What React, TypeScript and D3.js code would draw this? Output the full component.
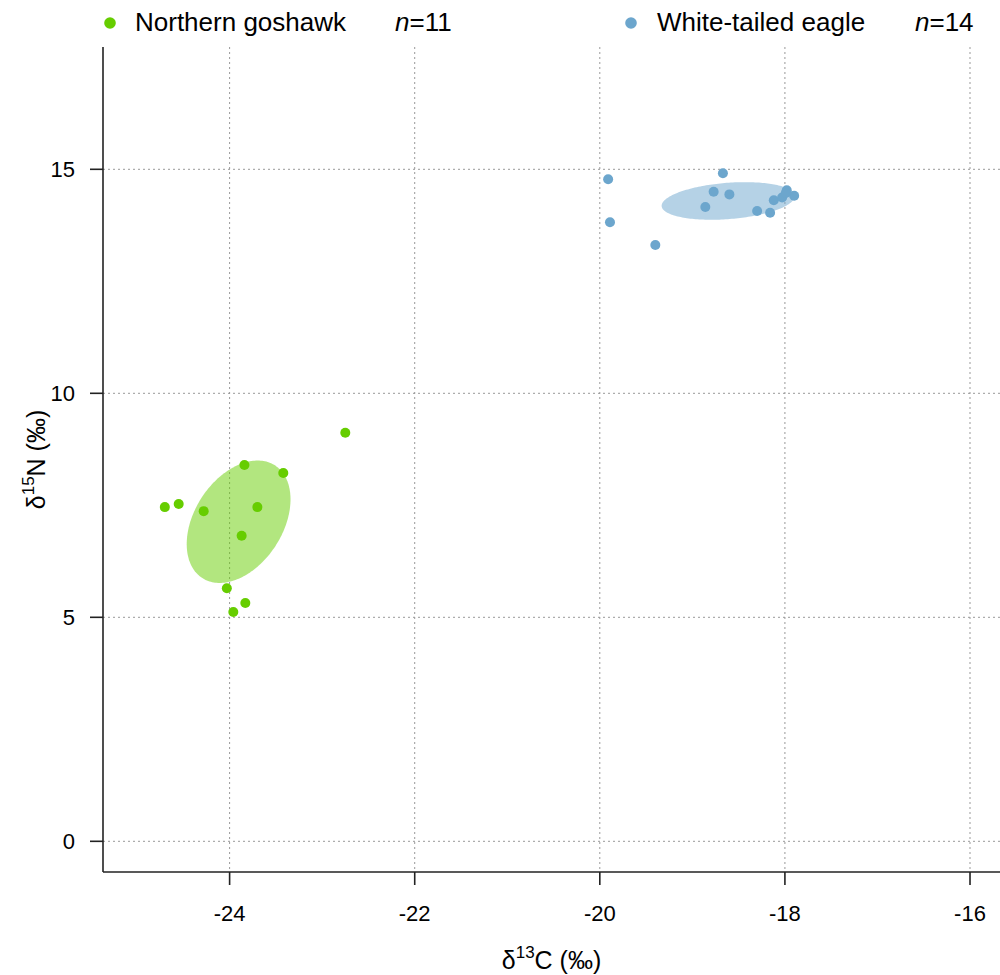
import * as d3 from "d3";

// stable isotope values
const goshawkC = [-24.7, -24.55, -24.28, -23.84, -23.42, -23.7, -23.87, -24.03, -23.96, -23.83, -22.75];
const goshawkN = [7.46, 7.53, 7.37, 8.4, 8.22, 7.46, 6.82, 5.65, 5.12, 5.32, 9.12];
const eagleC = [-19.91, -19.89, -19.4, -18.67, -18.77, -18.6, -18.86, -18.3, -18.16, -18.12, -18.03, -17.98, -17.9, -17.99];
const eagleN = [14.78, 13.82, 13.31, 14.91, 14.5, 14.44, 14.16, 14.07, 14.03, 14.31, 14.37, 14.53, 14.41, 14.47];

const speciesNames = ["Northern goshawk", "White-tailed eagle"];
const speciesColors = ["#66CD00", "#6CA6CD"]; // chartreuse3, skyblue3
const xTicks = [-24, -22, -20, -18, -16];
const yTicks = [0, 5, 10, 15];

const W = 1000;
const H = 975;
const FONT = "'Liberation Sans', Arial, sans-serif";

// small sample corrected standard ellipse (SEAc)
function seac(xs: number[], ys: number[]) {
  const n = xs.length;
  const mx = d3.mean(xs)!;
  const my = d3.mean(ys)!;
  let a = 0, b = 0, c = 0;
  for (let i = 0; i < n; i++) {
    a += (xs[i] - mx) ** 2;
    b += (xs[i] - mx) * (ys[i] - my);
    c += (ys[i] - my) ** 2;
  }
  const k = 1 / (n - 1) * ((n - 1) / (n - 2));
  a *= k; b *= k; c *= k;
  const h = Math.sqrt(((a - c) / 2) ** 2 + b * b);
  const l1 = (a + c) / 2 + h;
  const l2 = (a + c) / 2 - h;
  const th = 0.5 * Math.atan2(2 * b, a - c);
  return d3.range(0, 200).map((i) => {
    const t = (i / 200) * 2 * Math.PI;
    const u = Math.sqrt(l1) * Math.cos(t);
    const v = Math.sqrt(l2) * Math.sin(t);
    return [mx + u * Math.cos(th) - v * Math.sin(th), my + u * Math.sin(th) + v * Math.cos(th)] as [number, number];
  });
}

export default function App() {
  const left = 103;
  const right = 1000;
  const top = 47;
  const bottom = 872;

  const x = d3.scaleLinear().domain([-25.368, -15.676]).range([left, right]);
  const y = d3.scaleLinear().domain([-0.685, 17.73]).range([bottom, top]);

  const groups = [
    { xs: goshawkC, ys: goshawkN, n: goshawkC.length },
    { xs: eagleC, ys: eagleN, n: eagleC.length },
  ];

  const line = d3
    .line<[number, number]>()
    .x((d) => x(d[0]))
    .y((d) => y(d[1]))
    .curve(d3.curveLinearClosed);

  const legendX = [110, 631];
  const legendTextX = [135, 657];
  const legendNX = [395, 915];

  return (
    <svg width={W} height={H} style={{ position: "absolute", left: 0, top: 0, background: "#fff" }} fontFamily={FONT}>
      {/* grid */}
      <g stroke="#999" strokeWidth={1} strokeDasharray="2,3">
        {xTicks.map((t) => (
          <line key={"gx" + t} x1={x(t)} x2={x(t)} y1={top} y2={bottom} />
        ))}
        {yTicks.map((t) => (
          <line key={"gy" + t} x1={left} x2={right} y1={y(t)} y2={y(t)} />
        ))}
      </g>

      {/* ellipses */}
      {groups.map((g, i) => (
        <path key={"e" + i} d={line(seac(g.xs, g.ys))!} fill={speciesColors[i]} fillOpacity={0.5} stroke="none" />
      ))}

      {/* points */}
      {groups.map((g, i) =>
        g.xs.map((v, j) => (
          <circle key={"p" + i + "-" + j} cx={x(v)} cy={y(g.ys[j])} r={5} fill={speciesColors[i]} />
        ))
      )}

      {/* axes */}
      <g stroke="#222" strokeWidth={1.6}>
        <line x1={left} x2={left} y1={top} y2={bottom} />
        <line x1={left} x2={right} y1={bottom} y2={bottom} />
        {xTicks.map((t) => (
          <line key={"tx" + t} x1={x(t)} x2={x(t)} y1={bottom} y2={bottom + 13} />
        ))}
        {yTicks.map((t) => (
          <line key={"ty" + t} x1={left - 13} x2={left} y1={y(t)} y2={y(t)} />
        ))}
      </g>
      <g fontSize={22} fill="#000">
        {xTicks.map((t) => (
          <text key={"lx" + t} x={x(t)} y={921} textAnchor="middle">
            {t}
          </text>
        ))}
        {yTicks.map((t) => (
          <text key={"ly" + t} x={75} y={y(t) + 8} textAnchor="end">
            {t}
          </text>
        ))}
      </g>

      {/* axis titles */}
      <text x={(left + right) / 2} y={969} textAnchor="middle" fontSize={25}>
        δ<tspan fontSize={17} dy={-11}>13</tspan>
        <tspan dy={11}>C (‰)</tspan>
      </text>
      <text transform={`translate(45, ${(top + bottom) / 2}) rotate(-90)`} textAnchor="middle" fontSize={25}>
        δ<tspan fontSize={17} dy={-11}>15</tspan>
        <tspan dy={11}>N (‰)</tspan>
      </text>

      {/* legend */}
      {speciesNames.map((name, i) => (
        <g key={"lg" + i} fontSize={26}>
          <circle cx={legendX[i]} cy={23} r={5.8} fill={speciesColors[i]} />
          <text x={legendTextX[i]} y={31}>
            {name}
          </text>
          <text x={legendNX[i]} y={31}>
            <tspan fontStyle="italic">n</tspan>={groups[i].n}
          </text>
        </g>
      ))}
    </svg>
  );
}
